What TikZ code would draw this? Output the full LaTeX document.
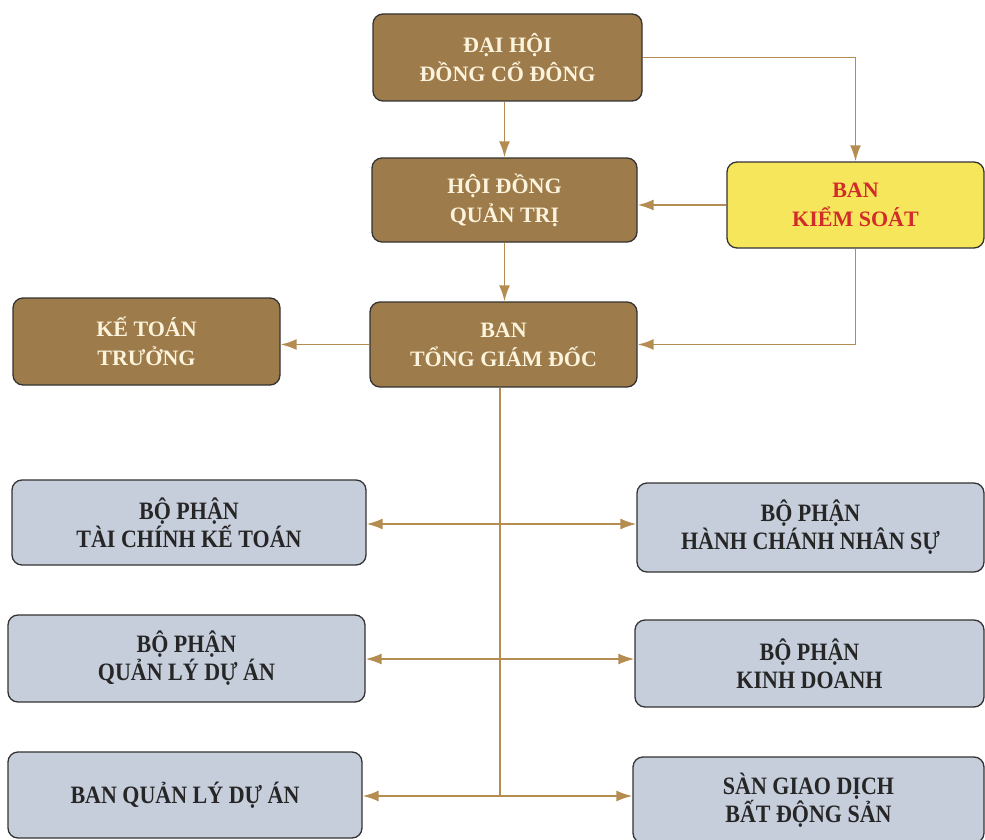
\documentclass[tikz,border=0pt]{standalone}
\usepackage{fontspec}
\setmainfont{Liberation Serif}
\newfontfamily\deptfont{Liberation Serif}[FakeStretch=0.88]
\usetikzlibrary{arrows.meta}
\definecolor{boxbrown}{HTML}{9E7B4A}
\definecolor{boxgray}{HTML}{C6CDDB}
\definecolor{boxyellow}{HTML}{F6E65C}
\definecolor{txtred}{HTML}{D22B2B}
\definecolor{txtcream}{HTML}{FBF3DC}
\definecolor{linkc}{HTML}{B58D50}

\tikzset{
  box/.style={draw=black!80,line width=1.3pt,rounded corners=10pt,align=center,inner sep=0pt},
  topbox/.style={box,fill=boxbrown,text=txtcream,font=\fontsize{22}{29}\selectfont\bfseries},
  ctrlbox/.style={box,fill=boxyellow,text=txtred,font=\fontsize{22}{29}\selectfont\bfseries},
  deptbox/.style={box,fill=boxgray,text=black!85,font=\deptfont\fontsize{25}{28}\selectfont\bfseries},
  link/.style={draw=linkc,line width=1.8pt,-{Latex[length=16pt,width=11pt]}}
}

\begin{document}
\begin{tikzpicture}[x=1pt,y=-1pt]
  \useasboundingbox (0,0) rectangle (985,840);

  % upper levels
  \node[topbox,minimum width=269pt,minimum height=87pt] (dhd) at (507.5,57.5) {ĐẠI HỘI\\ĐỒNG CỔ ĐÔNG};
  \node[topbox,minimum width=265pt,minimum height=84pt] (hdqt) at (504.5,200) {HỘI ĐỒNG\\QUẢN TRỊ};
  \node[ctrlbox,minimum width=257pt,minimum height=86pt] (bks) at (855.5,205) {BAN\\KIỂM SOÁT};
  \node[topbox,minimum width=267pt,minimum height=87pt] (ktt) at (146.5,341.5) {KẾ TOÁN\\TRƯỞNG};
  \node[topbox,minimum width=267pt,minimum height=85pt] (btgd) at (503.5,344.5) {BAN\\TỔNG GIÁM ĐỐC};

  % departments
  \node[deptbox,minimum width=354pt,minimum height=85pt] (tckt) at (189,522.5) {BỘ PHẬN\\TÀI CHÍNH KẾ TOÁN};
  \node[deptbox,minimum width=347pt,minimum height=89pt] (hcns) at (810.5,527.5) {BỘ PHẬN\\HÀNH CHÁNH NHÂN SỰ};
  \node[deptbox,minimum width=357pt,minimum height=87pt] (qlda) at (186.5,658.5) {BỘ PHẬN\\QUẢN LÝ DỰ ÁN};
  \node[deptbox,minimum width=349pt,minimum height=87pt] (kd) at (809.5,663.5) {BỘ PHẬN\\KINH DOANH};
  \node[deptbox,minimum width=354pt,minimum height=86pt] (bqlda) at (185,795) {BAN QUẢN LÝ DỰ ÁN};
  \node[deptbox,minimum width=351pt,minimum height=86pt] (sgd) at (808.5,800) {SÀN GIAO DỊCH\\BẤT ĐỘNG SẢN};

  \coordinate (j1) at (500,524);
  \coordinate (j2) at (500,659);
  \coordinate (j3) at (500,796);

  \draw[link] (hdqt.north |- dhd.south) -- (hdqt.north);
  \draw[link] (dhd.east) -| (bks.north);
  \draw[link] (bks.west) -- (bks.west -| hdqt.east);
  \draw[link] (hdqt.south) -- (hdqt.south |- btgd.north);
  \draw[link] (bks.south) |- (btgd.east);
  \draw[link] (btgd.west) -- (btgd.west -| ktt.east);

  \draw[draw=linkc,line width=1.8pt] (j1 |- btgd.south) -- (j3);
  \foreach \j/\l/\r in {j1/tckt/hcns,j2/qlda/kd,j3/bqlda/sgd}{
    \draw[link] (\j) -- (\j -| \l.east);
    \draw[link] (\j) -- (\j -| \r.west);
  }
\end{tikzpicture}
\end{document}
